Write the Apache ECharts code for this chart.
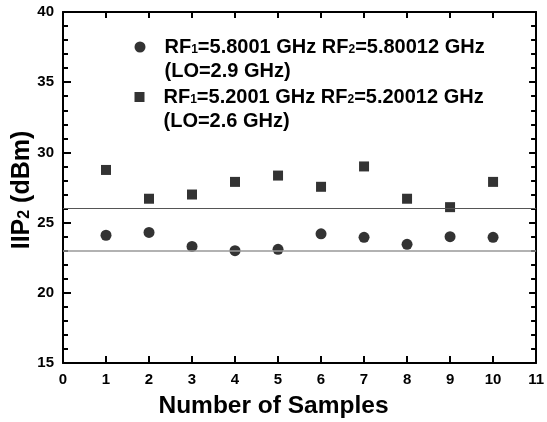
<!DOCTYPE html>
<html>
<head>
<meta charset="utf-8">
<script src="https://cdn.jsdelivr.net/npm/echarts@6/dist/echarts.min.js"></script>
<style>
html,body{margin:0;padding:0;background:#fff;}
#chart{width:547px;height:422px;}
</style>
</head>
<body>
<div id="chart"></div>
<script>
const samples = [1, 2, 3, 4, 5, 6, 7, 8, 9, 10];
const iip2At58 = [24.1, 24.3, 23.3, 23.0, 23.1, 24.2, 23.95, 23.45, 24.0, 23.95];
const iip2At52 = [28.75, 26.7, 27.0, 27.9, 28.35, 27.55, 29.0, 26.7, 26.1, 27.9];
const refLevels = [26, 23];
const xTitle = 'Number of Samples';
const yTitleMain = 'IIP';
const yTitleSub = '2';
const yTitleUnit = ' (dBm)';

const FONT = '"Liberation Sans", Arial, sans-serif';
const chart = echarts.init(document.getElementById('chart'), null, {renderer: 'canvas'});

const legendRich = {
  b: {fontFamily: FONT, fontWeight: 'bold', fontSize: 20, color: '#000', lineHeight: 24},
  s: {fontFamily: FONT, fontWeight: 'bold', fontSize: 12, color: '#000', lineHeight: 24, verticalAlign: 'middle', padding: [6, 0, 0, 0]}
};
const legendNames = {
  'A': '{b|RF}{s|1}{b|=5.8001 GHz RF}{s|2}{b|=5.80012 GHz}\n{b|(LO=2.9 GHz)}',
  'B': '{b|RF}{s|1}{b|=5.2001 GHz RF}{s|2}{b|=5.20012 GHz}\n{b|(LO=2.6 GHz)}'
};
function legendCfg(name, top, icon, size) {
  return {
    data: [{name: name, icon: icon}],
    left: 134.5, top: top, padding: 0,
    itemWidth: size, itemHeight: size,
    selectedMode: false,
    formatter: n => legendNames[n],
    textStyle: {fontFamily: FONT, fontWeight: 'bold', fontSize: 20, color: '#000', lineHeight: 24, padding: [24, 0, 0, 14], rich: legendRich}
  };
}

const axisLine = {show: true, onZero: false, lineStyle: {color: '#000', width: 2}};
const tickStyle = {color: '#000', width: 2};

chart.setOption({
  animation: false,
  backgroundColor: '#fff',
  grid: {left: 63, right: 9, top: 12, bottom: 59},
  legend: [legendCfg('A', 11, 'circle', 11), legendCfg('B', 61, 'rect', 10)],
  graphic: [{
    type: 'text', left: 'center', top: 394, z: 10,
    style: {text: xTitle, fontFamily: FONT, fontWeight: 'bold', fontSize: 24.5, fill: '#000'},
    x: -10
  }, {
    type: 'text', x: 8, y: 190, rotation: Math.PI / 2, z: 10,
    style: {
      text: '{a|' + yTitleMain + '}{s|' + yTitleSub + '}{a|' + yTitleUnit + '}',
      align: 'center', verticalAlign: 'top',
      rich: {
        a: {fontFamily: FONT, fontWeight: 'bold', fontSize: 25, fill: '#000', color: '#000', lineHeight: 28},
        s: {fontFamily: FONT, fontWeight: 'bold', fontSize: 16, fill: '#000', color: '#000', lineHeight: 28, verticalAlign: 'middle', padding: [6, 0, 0, 0]}
      }
    }
  }],
  xAxis: [{
    type: 'value', position: 'bottom', min: 0, max: 11, interval: 1,
    axisLine: axisLine,
    axisTick: {show: true, inside: true, length: 7, lineStyle: tickStyle},
    axisLabel: {fontFamily: FONT, fontWeight: 'bold', fontSize: 15, color: '#000', margin: 9},
    splitLine: {show: false}
  }, {
    type: 'value', position: 'top', min: 0, max: 11, interval: 1,
    axisLine: axisLine,
    axisTick: {show: true, inside: true, length: 6, lineStyle: tickStyle},
    axisLabel: {show: false}, splitLine: {show: false}
  }],
  yAxis: [{
    type: 'value', position: 'left', min: 15, max: 40, interval: 5,
    axisLine: axisLine,
    axisTick: {show: true, inside: true, length: 8, lineStyle: tickStyle},
    minorTick: {show: true, splitNumber: 5, length: 5, lineStyle: tickStyle},
    axisLabel: {fontFamily: FONT, fontWeight: 'bold', fontSize: 15, color: '#000', margin: 9},
    splitLine: {show: false}
  }, {
    type: 'value', position: 'right', min: 15, max: 40, interval: 5,
    axisLine: axisLine,
    axisTick: {show: true, inside: true, length: 7, lineStyle: tickStyle},
    minorTick: {show: true, splitNumber: 5, length: 5, lineStyle: tickStyle},
    axisLabel: {show: false}, splitLine: {show: false}
  }],
  series: [{
    name: 'A', type: 'scatter', symbol: 'circle', symbolSize: 11,
    itemStyle: {color: '#000'},
    data: samples.map((s, i) => [s, iip2At58[i]]),
    markLine: {
      silent: true, symbol: 'none', label: {show: false},
      data: [
        {yAxis: refLevels[0], lineStyle: {color: '#555', width: 1, type: 'solid'}},
        {yAxis: refLevels[1], lineStyle: {color: '#999', width: 1.5, type: 'solid'}}
      ]
    },
    z: 3
  }, {
    name: 'B', type: 'scatter', symbol: 'rect', symbolSize: 10,
    itemStyle: {color: '#000'},
    data: samples.map((s, i) => [s, iip2At52[i]]),
    z: 3
  }]
});
</script>
</body>
</html>
